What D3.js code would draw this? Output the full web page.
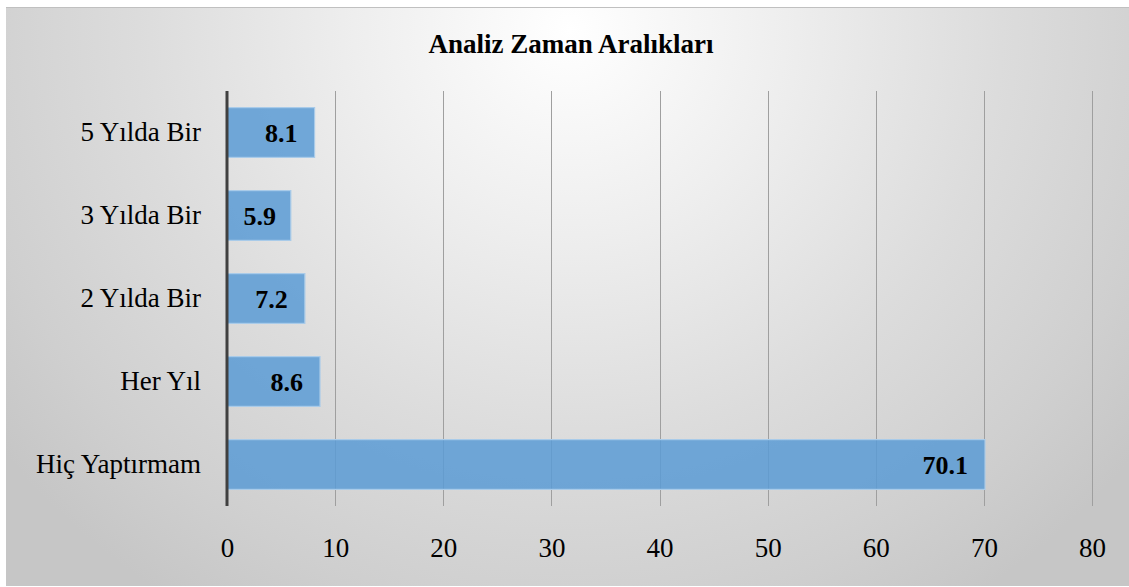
<!DOCTYPE html>
<html><head><meta charset="utf-8">
<script src="https://cdn.jsdelivr.net/npm/d3@7"></script>
<style>html,body{margin:0;padding:0;background:#fff;}svg{display:block;}</style>
</head><body>
<svg id="chart" width="1129" height="587"></svg>
<script>
const title = "Analiz Zaman Aralıkları";
const categories = ["5 Yılda Bir", "3 Yılda Bir", "2 Yılda Bir", "Her Yıl", "Hiç Yaptırmam"];
const values = [8.1, 5.9, 7.2, 8.6, 70.1];
const xTicks = [0, 10, 20, 30, 40, 50, 60, 70, 80];

const svg = d3.select("#chart");
const W = 1129, H = 587;
const FONT = "Liberation Serif, Times New Roman, serif";
const defs = svg.append("defs");
const grad = defs.append("radialGradient").attr("id", "bg")
  .attr("gradientUnits", "userSpaceOnUse")
  .attr("cx", 570).attr("cy", 30).attr("r", 720)
  .attr("gradientTransform", "translate(570,30) scale(1,0.95) translate(-570,-30)");
[[0, "#ffffff"], [0.3, "#eeeeee"], [0.6, "#dcdcdc"], [0.85, "#cfcfcf"], [1, "#c6c6c6"]]
  .forEach(([o, c]) => grad.append("stop").attr("offset", o).attr("stop-color", c));

svg.append("rect").attr("x", 6).attr("y", 7).attr("width", W - 6).attr("height", H - 8)
  .attr("fill", "url(#bg)");
svg.append("line").attr("x1", 6).attr("x2", W).attr("y1", 7.5).attr("y2", 7.5)
  .attr("stroke", "#c0c0c0").attr("stroke-width", 1);

const margin = {left: 227, right: 37, top: 91, bottom: 81};
const x = d3.scaleLinear().domain([0, 80]).range([margin.left, W - margin.right]);
const y = d3.scaleBand().domain(categories).range([margin.top, H - margin.bottom]).paddingInner(0.4).paddingOuter(0.2);

// title
svg.append("text").attr("x", 571).attr("y", 53).attr("text-anchor", "middle")
  .attr("font-family", FONT).attr("font-weight", "bold")
  .attr("font-size", 27).attr("fill", "#000").text(title);

// gridlines
svg.append("g").selectAll("line").data(xTicks.filter(d => d > 0)).join("line")
  .attr("x1", d => Math.round(x(d)) + 0.5).attr("x2", d => Math.round(x(d)) + 0.5)
  .attr("y1", margin.top).attr("y2", H - margin.bottom)
  .attr("stroke", "#9f9f9f").attr("stroke-width", 1);

// x axis labels
const xAxis = d3.axisBottom(x).tickValues(xTicks).tickSize(0).tickPadding(0);
const gx = svg.append("g").attr("transform", `translate(0,${H - margin.bottom + 51})`).call(xAxis);
gx.select(".domain").remove();
gx.selectAll("text").attr("font-family", FONT)
  .attr("font-size", 27).attr("fill", "#000").attr("dy", 0);

// bars
svg.append("g").selectAll("rect").data(values).join("rect")
  .attr("x", x(0)).attr("y", (d, i) => y(categories[i]))
  .attr("width", d => x(d) - x(0)).attr("height", y.bandwidth())
  .attr("fill", "#5b9bd5").attr("fill-opacity", 0.85)
  .attr("stroke", "#a9cbe9").attr("stroke-width", 1.2);

// value labels
svg.append("g").selectAll("text").data(values).join("text")
  .attr("x", d => Math.max(x(d) - 17, x(0) + 49)).attr("y", (d, i) => y(categories[i]) + y.bandwidth() / 2 + 9)
  .attr("text-anchor", "end")
  .attr("font-family", FONT).attr("font-weight", "bold")
  .attr("font-size", 26).attr("fill", "#000").text(d => d.toFixed(1));

// y axis
const yAxis = d3.axisLeft(y).tickSize(0).tickPadding(26);
const gy = svg.append("g").attr("transform", `translate(${x(0)},0)`).call(yAxis);
gy.select(".domain").remove();
gy.selectAll("text").attr("font-family", FONT)
  .attr("font-size", 27).attr("fill", "#000").attr("dy", "0.32em");
svg.append("line").attr("x1", x(0)).attr("x2", x(0)).attr("y1", margin.top).attr("y2", H - margin.bottom)
  .attr("stroke", "#404040").attr("stroke-width", 3);
</script>
</body></html>
